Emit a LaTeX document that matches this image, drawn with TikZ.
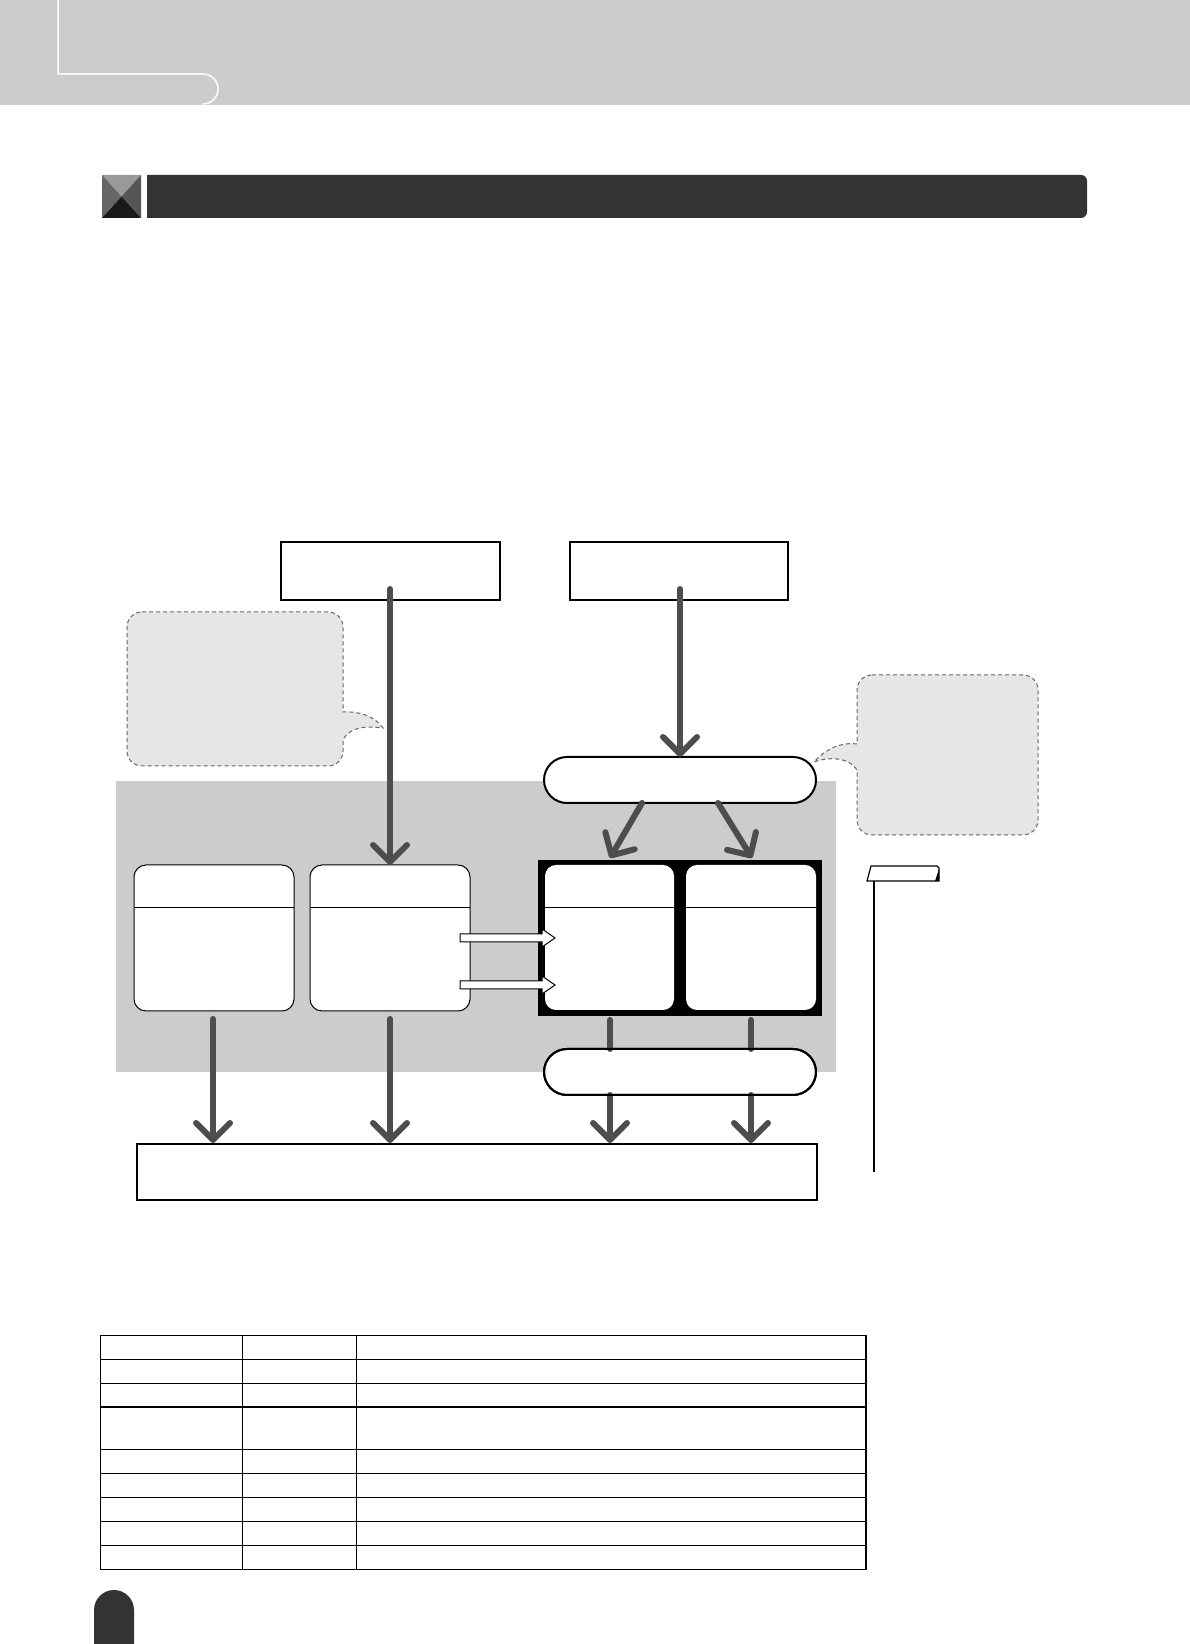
\documentclass[tikz,border=0pt]{standalone}
\usetikzlibrary{arrows.meta,calc}
\definecolor{bandgray}{HTML}{CCCCCC}
\definecolor{arrowgray}{HTML}{4D4D4D}
\definecolor{bubblefill}{HTML}{E6E6E6}
\definecolor{bubbleline}{HTML}{666666}
\definecolor{titledark}{HTML}{333333}
\definecolor{iconA}{HTML}{999999}
\definecolor{iconB}{HTML}{666666}
\definecolor{iconC}{HTML}{555555}
\definecolor{iconD}{HTML}{1A1A1A}
\tikzset{
  plainbox/.style={draw=black, line width=1.5pt, fill=white, inner sep=0pt, outer sep=0pt},
  pill/.style={draw=black, line width=2pt, fill=white, rounded corners=23pt, minimum width=272pt, minimum height=46pt, inner sep=0pt, outer sep=0pt},
  panel/.style={draw=black, line width=1pt, fill=white, rounded corners=12pt, minimum width=160pt, minimum height=146pt, inner sep=0pt, outer sep=0pt},
  whitepanel/.style={fill=white, rounded corners=11pt, minimum height=145pt, inner sep=0pt, outer sep=0pt},
  flow/.style={draw=arrowgray, line width=6pt, line cap=round, -{Straight Barb[length=17pt,width=34pt,round]}},
  flowline/.style={draw=arrowgray, line width=6pt, line cap=round},
  bubble/.style={fill=bubblefill, draw=bubbleline, line width=1pt, dash pattern=on 4pt off 3pt},
  hollow/.style={fill=white, draw=black, line width=1pt},
  gridline/.style={draw=black, line width=1.2pt},
}
\begin{document}
\begin{tikzpicture}[x=1pt,y=1pt]
\useasboundingbox (0,0) rectangle (1190,1644);
\fill[white] (0,0) rectangle (1190,1644);
% header band
\fill[bandgray] (0,1539) rectangle (1190,1644);
\draw[white, line width=1.5pt] (58,1644) -- (58,1570) -- (203,1570) arc[start angle=90,end angle=-90,radius=15];
% title bar
\fill[titledark] (147,1426) -- (1081,1426) arc[start angle=-90,end angle=0,radius=6] -- (1087,1463) arc[start angle=0,end angle=90,radius=6] -- (147,1469) -- cycle;
\fill[iconA] (102,1469) -- (141,1469) -- (121.5,1447.5) -- cycle;
\fill[iconB] (102,1469) -- (102,1426) -- (121.5,1447.5) -- cycle;
\fill[iconC] (141,1469) -- (141,1426) -- (121.5,1447.5) -- cycle;
\fill[iconD] (102,1426) -- (141,1426) -- (121.5,1447.5) -- cycle;
% gray region
\fill[bandgray] (116,572) rectangle (836,863);
% speech bubbles
\path[bubble] (142,1032) -- (328,1032) arc[start angle=90,end angle=0,radius=15] -- (343,932)
  .. controls (362,933) and (376,926) .. (383,916)
  .. controls (368,918) and (350,918) .. (343,904)
  -- (343,893) arc[start angle=0,end angle=-90,radius=15] -- (142,878)
  arc[start angle=270,end angle=180,radius=15] -- (127,1017)
  arc[start angle=180,end angle=90,radius=15] -- cycle;
\path[bubble] (872,969) -- (1023,969) arc[start angle=90,end angle=0,radius=15] -- (1038,824)
  arc[start angle=0,end angle=-90,radius=15] -- (872,809)
  arc[start angle=270,end angle=180,radius=15] -- (857,874)
  .. controls (850,886) and (830,888) .. (814,882)
  .. controls (826,895) and (840,902) .. (857,900)
  -- (857,954) arc[start angle=180,end angle=90,radius=15] -- cycle;
% top boxes
\node[plainbox, minimum width=219pt, minimum height=58pt] (src1) at (390.5,1073) {};
\node[plainbox, minimum width=218pt, minimum height=58pt] (src2) at (679,1073) {};
% pills
\node[pill] (pillT) at (680,864) {};
\node[pill] (pillB) at (680,572) {};
% panels
\node[panel] (boxA) at (214,706) {};
\node[panel] (boxB) at (390,706) {};
\draw[line width=1pt] (boxA.west |- 0,736) -- (boxA.east |- 0,736);
\draw[line width=1pt] (boxB.west |- 0,736) -- (boxB.east |- 0,736);
% black frame
\node[fill=black, minimum width=284pt, minimum height=156pt, inner sep=0pt, outer sep=0pt] (frame) at (680,706) {};
\node[whitepanel, minimum width=129pt] (wL) at (609.5,706.5) {};
\node[whitepanel, minimum width=130pt] (wR) at (751,706.5) {};
\draw[line width=1pt] (wL.west |- 0,736) -- (wL.east |- 0,736);
\draw[line width=1pt] (wR.west |- 0,736) -- (wR.east |- 0,736);
% hollow arrows
\draw[hollow] (460,702) -- (542,702) -- (542,697) -- (555,706) -- (542,715) -- (542,710) -- (460,710) -- cycle;
\draw[hollow] (460,655) -- (542,655) -- (542,650) -- (555,659) -- (542,668) -- (542,663) -- (460,663) -- cycle;
% bottom box
\node[plainbox, line width=2pt, minimum width=680pt, minimum height=56pt] (dest) at (477,472) {};
% arrow coordinates
\coordinate (s1) at (390,1055);
\coordinate (s2) at (680,1055);
\coordinate (d1) at (642,841);
\coordinate (e1) at (610,786);
\coordinate (d2) at (718,841);
\coordinate (e2) at (752,786);
\coordinate (a1) at (213,625);
\coordinate (a2) at (390,625);
\coordinate (a3) at (610,624);
\coordinate (a4) at (751,624);
% gray flow arrows
\draw[flow] (s1) -- (boxB.north);
\draw[flow] (s2) -- (pillT.north);
\draw[flow] (d1) -- (e1);
\draw[flow] (d2) -- (e2);
\draw[flow] (a1) -- ($(a1 |- dest.north)+(0,1)$);
\draw[flow] (a2) -- ($(a2 |- dest.north)+(0,1)$);
\draw[flowline] (a3) -- (a3 |- pillB.north);
\draw[flowline] (a4) -- (a4 |- pillB.north);
\draw[flow] (a3 |- pillB.south) -- ($(a3 |- dest.north)+(0,1)$);
\draw[flow] (a4 |- pillB.south) -- ($(a4 |- dest.north)+(0,1)$);
% redraw pill borders over line ends
\node[pill, fill=none] at (pillB) {};
% note tab
\draw[line width=1.2pt, fill=white] (867,763) -- (871,778) -- (937,778) -- (939,776) -- (939,763) -- cycle;
\fill[black] (935,763) -- (939,763) -- (939,775) -- cycle;
\coordinate (n0) at (874,763);
\coordinate (n1) at (874,472);
\draw[line width=1.2pt] (n0) -- (n1);
% table
\draw[gridline] (100.7,74.5) rectangle (866,308.3);
\foreach \yy in {284.5,260.7,237,194.7,170.7,146.5,122.5,98.5}
  \draw[gridline] (100.7,\yy) -- (866,\yy);
\draw[gridline] (242.3,74.5) -- (242.3,308.3);
\draw[gridline] (356.7,74.5) -- (356.7,308.3);
% bottom tab
\fill[titledark] (94,0) -- (94,34) arc[start angle=180,end angle=0,radius=20] -- (134,0) -- cycle;
\end{tikzpicture}
\end{document}
